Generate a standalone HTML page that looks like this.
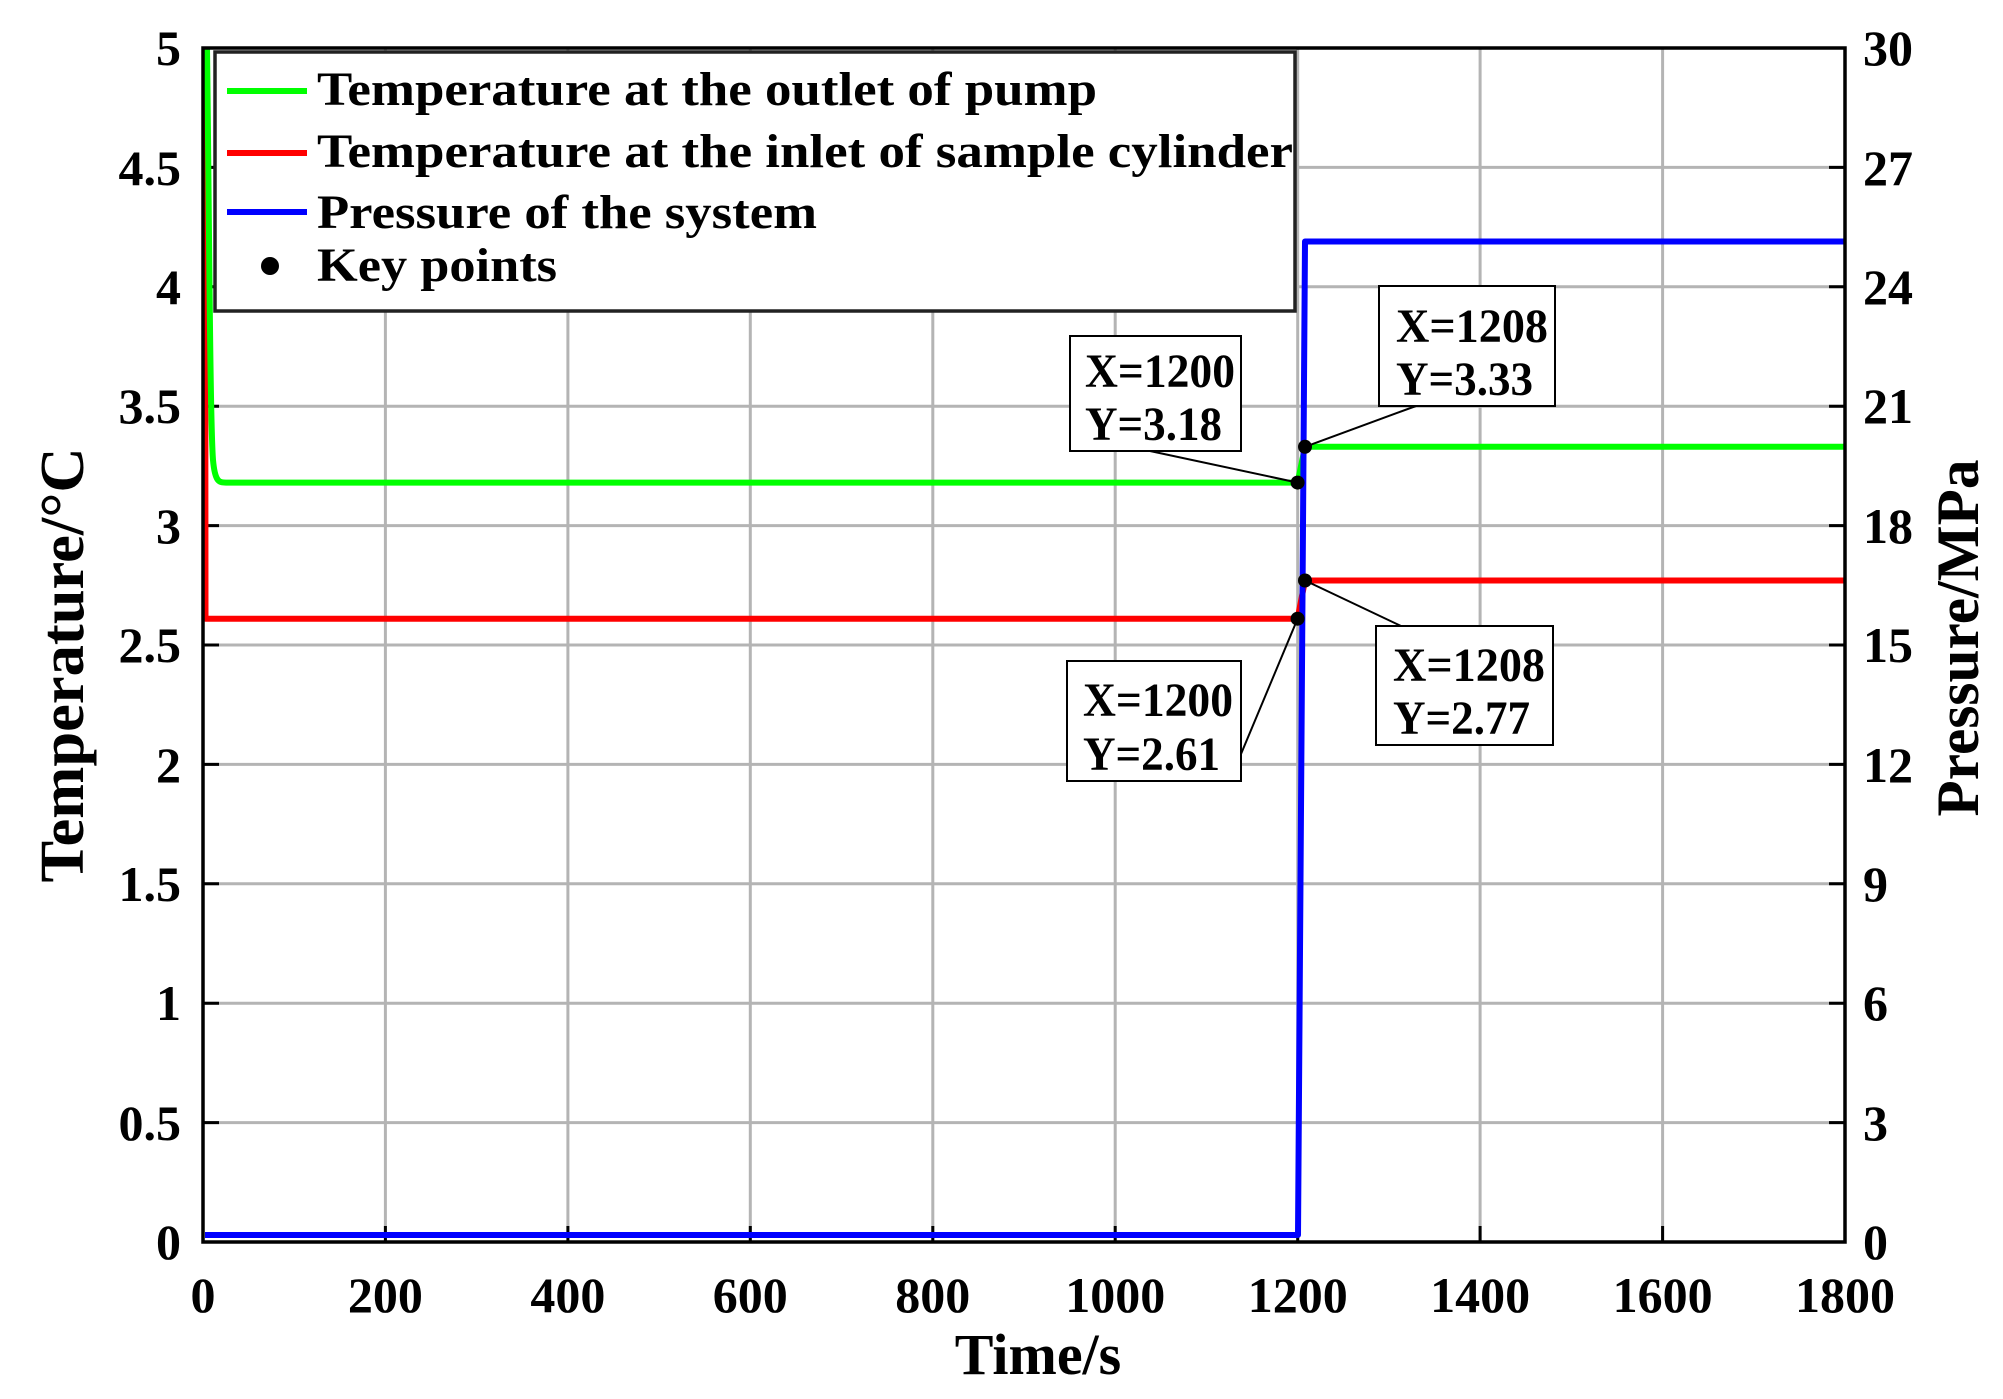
<!DOCTYPE html>
<html><head><meta charset="utf-8"><style>
html,body{margin:0;padding:0;background:#fff;}
svg{display:block;font-family:"Liberation Serif",serif;font-weight:bold;}
</style></head><body>
<svg width="2003" height="1399" viewBox="0 0 2003 1399" xmlns="http://www.w3.org/2000/svg">
<rect width="2003" height="1399" fill="#fff"/>
<g stroke="#b4b4b4" stroke-width="3">
<line x1="385.4" y1="48" x2="385.4" y2="1242"/>
<line x1="567.9" y1="48" x2="567.9" y2="1242"/>
<line x1="750.3" y1="48" x2="750.3" y2="1242"/>
<line x1="932.8" y1="48" x2="932.8" y2="1242"/>
<line x1="1115.2" y1="48" x2="1115.2" y2="1242"/>
<line x1="1297.7" y1="48" x2="1297.7" y2="1242"/>
<line x1="1480.1" y1="48" x2="1480.1" y2="1242"/>
<line x1="1662.6" y1="48" x2="1662.6" y2="1242"/>
<line x1="203" y1="1122.6" x2="1845" y2="1122.6"/>
<line x1="203" y1="1003.2" x2="1845" y2="1003.2"/>
<line x1="203" y1="883.8" x2="1845" y2="883.8"/>
<line x1="203" y1="764.4" x2="1845" y2="764.4"/>
<line x1="203" y1="645" x2="1845" y2="645"/>
<line x1="203" y1="525.6" x2="1845" y2="525.6"/>
<line x1="203" y1="406.2" x2="1845" y2="406.2"/>
<line x1="203" y1="286.8" x2="1845" y2="286.8"/>
<line x1="203" y1="167.4" x2="1845" y2="167.4"/>
</g>
<g stroke="#000" stroke-width="3">
<path d="M385.4 1242v-16M567.9 1242v-16M750.3 1242v-16M932.8 1242v-16M1115.2 1242v-16M1297.7 1242v-16M1480.1 1242v-16M1662.6 1242v-16"/>
<path d="M203 1122.6h16M203 1003.2h16M203 883.8h16M203 764.4h16M203 645h16M203 525.6h16M203 406.2h16M203 286.8h16M203 167.4h16"/>
<path d="M1845 1122.6h-16M1845 1003.2h-16M1845 883.8h-16M1845 764.4h-16M1845 645h-16M1845 525.6h-16M1845 406.2h-16M1845 286.8h-16M1845 167.4h-16"/>
</g>
<g fill="none" stroke-width="6" stroke-linejoin="round">
<polyline stroke="#ff0000" points="205,48 205.5,618.7 1297.6,618.7 1305,580.5 1845,580.5"/>
<path stroke="#00ff00" d="M207,48 C209,200 210,420 213,460 C215,482 219,482.6 226,482.6 L1297.6,482.6 L1305,446.8 L1845,446.8"/>
<polyline stroke="#0000ff" points="205,1235 1298,1235 1305,241.5 1845,241.5"/>
</g>
<rect x="203" y="48" width="1642" height="1194" fill="none" stroke="#000" stroke-width="3.5"/>
<rect x="215" y="52" width="1080" height="259" fill="#fff" stroke="#222" stroke-width="3.5"/>
<g stroke-width="6">
<line x1="227" y1="91" x2="307" y2="91" stroke="#00ff00"/>
<line x1="227" y1="153" x2="307" y2="153" stroke="#ff0000"/>
<line x1="227" y1="212" x2="307" y2="212" stroke="#0000ff"/>
</g>
<circle cx="270" cy="266" r="9" fill="#000"/>
<g font-size="48" fill="#000">
<text x="317" y="105" textLength="780" lengthAdjust="spacingAndGlyphs">Temperature at the outlet of pump</text>
<text x="317" y="167" textLength="976" lengthAdjust="spacingAndGlyphs">Temperature at the inlet of sample cylinder</text>
<text x="317" y="228" textLength="500" lengthAdjust="spacingAndGlyphs">Pressure of the system</text>
<text x="317" y="281" textLength="240" lengthAdjust="spacingAndGlyphs">Key points</text>
</g>
<g stroke="#000" stroke-width="2" fill="none">
<line x1="1150" y1="451" x2="1297.6" y2="482.6"/>
<line x1="1416" y1="406" x2="1305" y2="446.8"/>
<line x1="1241" y1="754" x2="1297.6" y2="618.7"/>
<line x1="1401" y1="626" x2="1305" y2="580.5"/>
</g>
<g fill="#000">
<circle cx="1297.6" cy="482.6" r="7"/>
<circle cx="1305" cy="446.8" r="7"/>
<circle cx="1297.6" cy="618.7" r="7"/>
<circle cx="1305" cy="580.5" r="7"/>
</g>
<g fill="#fff" stroke="#000" stroke-width="2">
<rect x="1070" y="336" width="171" height="115"/>
<rect x="1379" y="286" width="176" height="120"/>
<rect x="1067" y="661" width="174" height="120"/>
<rect x="1376" y="626" width="177" height="119"/>
</g>
<g font-size="48" fill="#000">
<text x="1085" y="387" textLength="150" lengthAdjust="spacingAndGlyphs">X=1200</text>
<text x="1085" y="440" textLength="137" lengthAdjust="spacingAndGlyphs">Y=3.18</text>
<text x="1396" y="342" textLength="152" lengthAdjust="spacingAndGlyphs">X=1208</text>
<text x="1396" y="395" textLength="137" lengthAdjust="spacingAndGlyphs">Y=3.33</text>
<text x="1083" y="716" textLength="150" lengthAdjust="spacingAndGlyphs">X=1200</text>
<text x="1083" y="770" textLength="137" lengthAdjust="spacingAndGlyphs">Y=2.61</text>
<text x="1393" y="681" textLength="152" lengthAdjust="spacingAndGlyphs">X=1208</text>
<text x="1393" y="734" textLength="137" lengthAdjust="spacingAndGlyphs">Y=2.77</text>
</g>
<g font-size="50" fill="#000" text-anchor="end">
<text x="181" y="1259">0</text>
<text x="181" y="1140">0.5</text>
<text x="181" y="1020">1</text>
<text x="181" y="901">1.5</text>
<text x="181" y="782">2</text>
<text x="181" y="662">2.5</text>
<text x="181" y="543">3</text>
<text x="181" y="423">3.5</text>
<text x="181" y="304">4</text>
<text x="181" y="185">4.5</text>
<text x="181" y="65">5</text>
</g>
<g font-size="50" fill="#000" text-anchor="start">
<text x="1863" y="1259">0</text>
<text x="1863" y="1140">3</text>
<text x="1863" y="1020">6</text>
<text x="1863" y="901">9</text>
<text x="1863" y="782">12</text>
<text x="1863" y="662">15</text>
<text x="1863" y="543">18</text>
<text x="1863" y="423">21</text>
<text x="1863" y="304">24</text>
<text x="1863" y="185">27</text>
<text x="1863" y="65">30</text>
</g>
<g font-size="50" fill="#000" text-anchor="middle">
<text x="203" y="1312">0</text>
<text x="385.4" y="1312">200</text>
<text x="567.9" y="1312">400</text>
<text x="750.3" y="1312">600</text>
<text x="932.8" y="1312">800</text>
<text x="1115.2" y="1312">1000</text>
<text x="1297.7" y="1312">1200</text>
<text x="1480.1" y="1312">1400</text>
<text x="1662.6" y="1312">1600</text>
<text x="1845" y="1312">1800</text>
</g>
<text x="1038" y="1374" font-size="58" text-anchor="middle" fill="#000">Time/s</text>
<text transform="translate(83,665) rotate(-90)" font-size="62" text-anchor="middle" fill="#000" textLength="435" lengthAdjust="spacingAndGlyphs">Temperature/°C</text>
<text transform="translate(1978,638) rotate(-90)" font-size="60" text-anchor="middle" fill="#000" textLength="357" lengthAdjust="spacingAndGlyphs">Pressure/MPa</text>
</svg>
</body></html>
